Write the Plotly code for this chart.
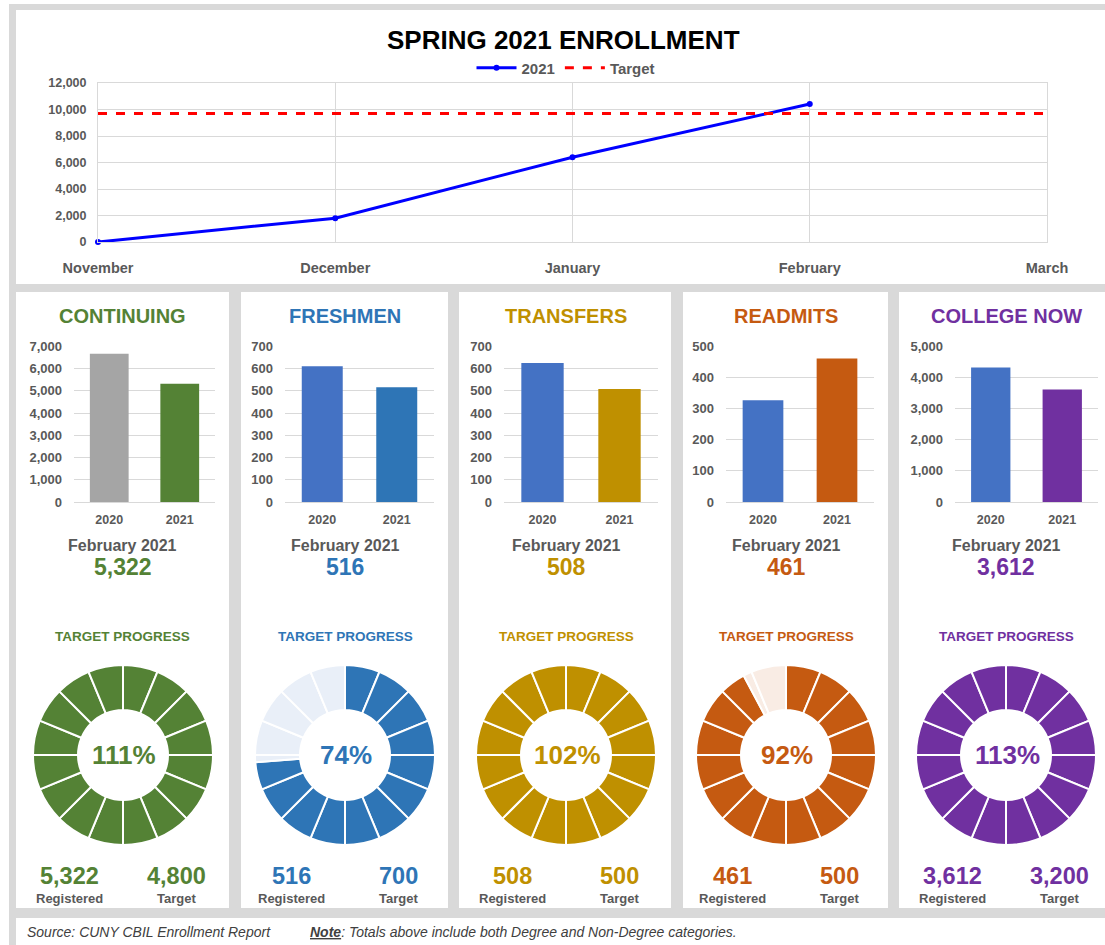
import plotly.graph_objects as go

W, H = 1105, 945

# ---------------- data ----------------
months = ["November", "December", "January", "February", "March"]
enroll_2021 = [0, 1800, 6400, 10419, None]
target_total = [9700, 9700, 9700, 9700, 9700]

categories = ["CONTINUING", "FRESHMEN", "TRANSFERS", "READMITS", "COLLEGE NOW"]
years = ["2020", "2021"]
feb_2020 = [6670, 610, 625, 327, 4320]
feb_2021 = [5322, 516, 508, 461, 3612]
targets = [4800, 700, 500, 500, 3200]
y_max = [7000, 700, 700, 500, 5000]
y_dtick = [1000, 100, 100, 100, 1000]
n_segments = 16

# ---------------- styles ----------------
FONT = "Liberation Sans, Arial, sans-serif"
GRAY_TXT = "#595959"
GRID = "#D9D9D9"
main_col = ["#548235", "#2E75B6", "#BF9000", "#C55A11", "#7030A0"]
col_2020 = ["#A5A5A5", "#4472C4", "#4472C4", "#4472C4", "#4472C4"]
light_col = ["#E4EEDC", "#E9EFF8", "#FBF1D6", "#F9ECE4", "#EEE3F5"]

panels_x = [(16, 229), (241, 448), (459, 671), (683, 888), (899, 1105)]
bar_dom = [(74, 215), (285, 434), (504, 658), (726, 874), (955, 1098)]
centers = [123, 345, 566, 786, 1006]


def px(x):
    return x / W


def py(y):
    return 1 - y / H


fig = go.Figure()

# ---------------- top line chart ----------------
fig.add_trace(go.Scatter(
    x=months, y=enroll_2021, name="2021", mode="lines+markers",
    line=dict(color="#0000FF", width=3), marker=dict(size=6, color="#0000FF"),
    cliponaxis=False, hoverinfo="skip"))
fig.add_trace(go.Scatter(
    x=months, y=target_total, name="Target", mode="lines",
    line=dict(color="#FF0000", width=3, dash="dash"), hoverinfo="skip"))

layout_axes = {}
layout_axes["xaxis"] = dict(
    domain=[px(98), px(1047)], anchor="y", type="category", range=[0, 4],
    showgrid=True, gridcolor=GRID, showline=True, mirror=True, linecolor=GRID,
    ticks="", ticklabelstandoff=13, automargin=False,
    tickfont=dict(family=FONT, size=14.5, color=GRAY_TXT, weight="bold"))
layout_axes["yaxis"] = dict(
    domain=[py(242), py(83)], anchor="x", range=[0, 12000], dtick=2000,
    tickformat=",d", showgrid=True, gridcolor=GRID, showline=True, mirror=True,
    linecolor=GRID, zeroline=False, ticks="", ticklabelstandoff=8,
    automargin=False,
    tickfont=dict(family=FONT, size=12.5, color=GRAY_TXT, weight="bold"))

# ---------------- bar charts ----------------
for i in range(5):
    k = i + 2
    fig.add_trace(go.Bar(
        x=years, y=[feb_2020[i], feb_2021[i]],
        marker=dict(color=[col_2020[i], main_col[i]], line=dict(width=0)),
        xaxis=f"x{k}", yaxis=f"y{k}", showlegend=False, hoverinfo="skip"))
    layout_axes[f"xaxis{k}"] = dict(
        domain=[px(bar_dom[i][0]), px(bar_dom[i][1])], anchor=f"y{k}",
        type="category", showgrid=False, showline=False, ticks="",
        ticklabelstandoff=8, automargin=False,
        tickfont=dict(family=FONT, size=12.5, color=GRAY_TXT, weight="bold"))
    layout_axes[f"yaxis{k}"] = dict(
        domain=[py(502), py(346)], anchor=f"x{k}", range=[0, y_max[i] * 1.002],
        dtick=y_dtick[i], tickformat=",d", showgrid=True, gridcolor=GRID,
        zeroline=True, zerolinecolor=GRID, zerolinewidth=1, showline=False,
        ticks="", ticklabelstandoff=11, automargin=False,
        tickfont=dict(family=FONT, size=13, color=GRAY_TXT, weight="bold"))

# ---------------- donuts ----------------
R_OUT = 90
for i in range(5):
    prog = feb_2021[i] / targets[i]
    prog_angle = min(prog, 1.0) * 360
    bounds = sorted(set([j * 360 / n_segments for j in range(n_segments + 1)] +
                        ([prog_angle] if prog_angle < 360 else [])))
    vals, cols = [], []
    for a, b in zip(bounds[:-1], bounds[1:]):
        vals.append(b - a)
        cols.append(main_col[i] if b <= prog_angle + 1e-9 else light_col[i])
    cx, cy = centers[i], 755
    fig.add_trace(go.Pie(
        values=vals, marker=dict(colors=cols, line=dict(color="white", width=2)),
        hole=0.5, sort=False, direction="clockwise", rotation=0,
        textinfo="none", hoverinfo="skip", showlegend=False, automargin=False,
        domain=dict(x=[px(cx - R_OUT), px(cx + R_OUT)],
                    y=[py(cy + R_OUT), py(cy - R_OUT)])))

# ---------------- shapes (background panels) ----------------
shapes = [dict(type="rect", xref="paper", yref="paper", x0=px(9), x1=1,
               y0=0, y1=py(4), fillcolor="#D9D9D9", line=dict(width=0),
               layer="below"),
          dict(type="rect", xref="paper", yref="paper", x0=px(16), x1=1,
               y0=py(284), y1=py(10), fillcolor="white", line=dict(width=0),
               layer="below"),
          dict(type="rect", xref="paper", yref="paper", x0=px(16), x1=1,
               y0=0, y1=py(918), fillcolor="white", line=dict(width=0),
               layer="below")]
for (x0, x1) in panels_x:
    shapes.append(dict(type="rect", xref="paper", yref="paper", x0=px(x0),
                       x1=px(x1), y0=py(908), y1=py(292), fillcolor="white",
                       line=dict(width=0), layer="below"))

# ---------------- annotations ----------------
ann = []


def text(t, x, y, size, color, xanchor="center"):
    ann.append(dict(text=t, x=px(x), y=py(y), xref="paper", yref="paper",
                    showarrow=False, xanchor=xanchor, yanchor="middle",
                    font=dict(family=FONT, size=size, color=color)))


text("<b>SPRING 2021 ENROLLMENT</b>", 563, 40, 26, "#000000")

for i in range(5):
    c = centers[i]
    prog = feb_2021[i] / targets[i]
    text(f"<b>{categories[i]}</b>", c, 316, 20, main_col[i])
    text("<b>February 2021</b>", c, 545, 16, GRAY_TXT)
    text(f"<b>{feb_2021[i]:,}</b>", c, 567, 23, main_col[i])
    text("<b>TARGET PROGRESS</b>", c, 636, 13.5, main_col[i])
    text(f"<b>{round(prog * 100):d}%</b>", c + 1, 755, 26, main_col[i])
    text(f"<b>{feb_2021[i]:,}</b>", c - 54, 876, 23.5, main_col[i])
    text(f"<b>{targets[i]:,}</b>", c + 53, 876, 23.5, main_col[i])
    text("<b>Registered</b>", c - 54, 898, 13, GRAY_TXT)
    text("<b>Target</b>", c + 53, 898, 13, GRAY_TXT)

text("<i>Source: CUNY CBIL Enrollment Report</i>", 25, 932, 14, "#404040",
     xanchor="left")
text("<i><b><u>Note</u></b>: Totals above include both Degree and Non-Degree categories.</i>",
     308, 932, 14, "#404040", xanchor="left")

fig.update_layout(
    template="none",
    width=W, height=H, margin=dict(l=0, r=0, t=0, b=0, pad=0, autoexpand=False),
    paper_bgcolor="white", plot_bgcolor="rgba(0,0,0,0)",
    bargap=0.45, shapes=shapes, annotations=ann,
    legend=dict(orientation="h", x=px(566), xanchor="center", y=py(68),
                yanchor="middle", bgcolor="rgba(0,0,0,0)", itemwidth=40,
                font=dict(family=FONT, size=15, color=GRAY_TXT, weight="bold")),
    **layout_axes)

fig.write_html("out.html")
